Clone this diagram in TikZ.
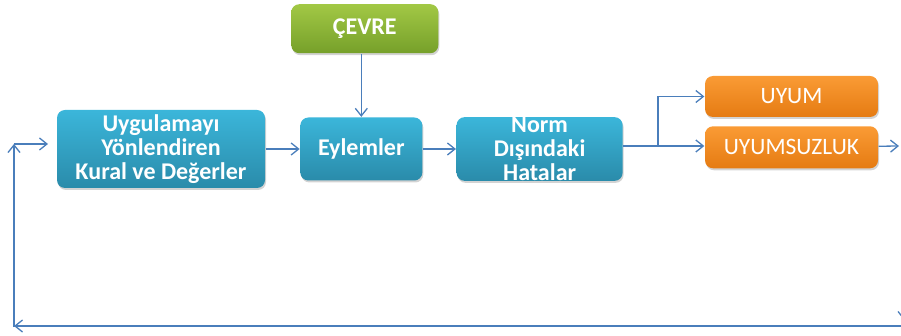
\documentclass[tikz,border=0pt]{standalone}
\usepackage{fontspec}
\setmainfont{Carlito}
\usetikzlibrary{positioning}
\usetikzlibrary{arrows.meta}
\usetikzlibrary{shadows}
\definecolor{oklink}{HTML}{4A7EBB}
\definecolor{maviust}{HTML}{3BB6DA}
\definecolor{mavialt}{HTML}{2A8BAA}
\definecolor{yesilust}{HTML}{A2C845}
\definecolor{yesilalt}{HTML}{76A02A}
\definecolor{turuncuust}{HTML}{FA9B35}
\definecolor{turuncualt}{HTML}{E57B12}
\tikzset{every picture/.style={line width=1.3pt},
  kutu/.style={rounded corners=8pt, inner sep=0pt, align=center, text=white,
    drop shadow={opacity=0.35, shadow xshift=1pt, shadow yshift=-2pt}},
  mavi/.style={kutu, top color=maviust, bottom color=mavialt, font=\fontsize{24}{24}\selectfont\bfseries},
  yesil/.style={kutu, top color=yesilust, bottom color=yesilalt, font=\fontsize{24}{24}\selectfont\bfseries},
  turuncu/.style={kutu, top color=turuncuust, bottom color=turuncualt, font=\fontsize{23.5}{24}\selectfont},
  ok/.style={draw=oklink, -{Straight Barb[length=7.5pt,width=12pt]}}}

\begin{document}
\begin{tikzpicture}[x=1pt, y=-1pt]
\useasboundingbox (0,0) rectangle (901,336);
\clip (0,0) rectangle (901,336);
\node (kural) [mavi, minimum width=208pt, minimum height=78pt] at (161,149) {Uygulamayı\\Yönlendiren\\Kural ve Değerler};
\node (eylem) [mavi, right=34pt of kural, minimum width=122pt, minimum height=63pt] {Eylemler};
\node (norm) [mavi, right=33pt of eylem, minimum width=166pt, minimum height=63pt] {Norm\\Dışındaki\\Hatalar};
\node (cevre) [yesil, above=63pt of eylem, xshift=3.5pt, minimum width=147pt, minimum height=49pt] {ÇEVRE};
\node (uyum) [turuncu, minimum width=173pt, minimum height=41pt] at (791.5,96.5) {UYUM};
\node (uyumsuz) [turuncu, below=8pt of uyum, minimum width=173pt, minimum height=42pt] {UYUMSUZLUK};
\coordinate (ayrim) at (658,146);
\coordinate (sagcikis) at (899,146);
\coordinate (sagust) at (904,150);
\coordinate (sagalt) at (904,320);
\coordinate (altsag) at (905,326);
\coordinate (altsol) at (14,326);
\coordinate (solalt) at (14,327);
\coordinate (solust) at (14,144);
\coordinate (giris) at (48,144);
\draw [ok] (kural) -- (eylem);
\draw [ok] (cevre.south -| eylem) -- (eylem);
\draw [ok] (eylem) -- (norm);
\draw [ok] (norm.east |- ayrim) -- (ayrim -| uyumsuz.west);
\draw [ok] (ayrim) |- (uyum.west);
\draw [ok] (uyumsuz) -- (sagcikis);
\draw [ok] (sagust) -- (sagalt);
\draw [ok] (altsag) -- (altsol);
\draw [ok] (solalt) -- (solust);
\draw [ok] (solust) -- (giris);
\end{tikzpicture}
\end{document}
